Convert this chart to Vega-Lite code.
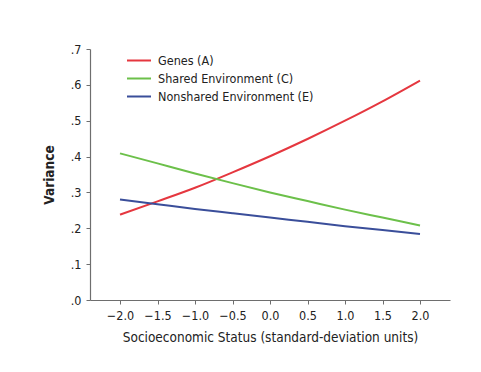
{
  "$schema": "https://vega.github.io/schema/vega-lite/v6.json",
  "autosize": "none",
  "width": 360,
  "height": 251,
  "padding": {"left": 90, "top": 49, "right": 31, "bottom": 72},
  "background": "white",
  "config": {
    "view": {"stroke": null},
    "font": "DejaVu Sans Condensed, Liberation Sans, sans-serif",
    "axis": {
      "domainColor": "#6e6e6e",
      "tickColor": "#6e6e6e",
      "domainWidth": 1.2,
      "tickSize": 4,
      "grid": false,
      "labelColor": "#222",
      "titleColor": "#222",
      "labelFont": "DejaVu Sans Condensed, Liberation Sans, sans-serif",
      "titleFont": "DejaVu Sans Condensed, Liberation Sans, sans-serif",
      "labelFontSize": 12.5,
      "titleFontSize": 13.5,
      "titleFontWeight": "normal"
    },
    "legend": {
      "labelFont": "DejaVu Sans Condensed, Liberation Sans, sans-serif",
      "labelFontSize": 12.5,
      "labelColor": "#222"
    }
  },
  "data": {
    "values": [
      {"ses": -2.0, "component": "Genes (A)", "variance": 0.238},
      {"ses": -1.5, "component": "Genes (A)", "variance": 0.275},
      {"ses": -1.0, "component": "Genes (A)", "variance": 0.313},
      {"ses": -0.5, "component": "Genes (A)", "variance": 0.356},
      {"ses": 0.0, "component": "Genes (A)", "variance": 0.401},
      {"ses": 0.5, "component": "Genes (A)", "variance": 0.449},
      {"ses": 1.0, "component": "Genes (A)", "variance": 0.500},
      {"ses": 1.5, "component": "Genes (A)", "variance": 0.554},
      {"ses": 2.0, "component": "Genes (A)", "variance": 0.612},
      {"ses": -2.0, "component": "Shared Environment (C)", "variance": 0.409},
      {"ses": -1.5, "component": "Shared Environment (C)", "variance": 0.381},
      {"ses": -1.0, "component": "Shared Environment (C)", "variance": 0.353},
      {"ses": -0.5, "component": "Shared Environment (C)", "variance": 0.326},
      {"ses": 0.0, "component": "Shared Environment (C)", "variance": 0.300},
      {"ses": 0.5, "component": "Shared Environment (C)", "variance": 0.276},
      {"ses": 1.0, "component": "Shared Environment (C)", "variance": 0.252},
      {"ses": 1.5, "component": "Shared Environment (C)", "variance": 0.230},
      {"ses": 2.0, "component": "Shared Environment (C)", "variance": 0.208},
      {"ses": -2.0, "component": "Nonshared Environment (E)", "variance": 0.280},
      {"ses": -1.5, "component": "Nonshared Environment (E)", "variance": 0.267},
      {"ses": -1.0, "component": "Nonshared Environment (E)", "variance": 0.254},
      {"ses": -0.5, "component": "Nonshared Environment (E)", "variance": 0.242},
      {"ses": 0.0, "component": "Nonshared Environment (E)", "variance": 0.230},
      {"ses": 0.5, "component": "Nonshared Environment (E)", "variance": 0.218},
      {"ses": 1.0, "component": "Nonshared Environment (E)", "variance": 0.206},
      {"ses": 1.5, "component": "Nonshared Environment (E)", "variance": 0.195},
      {"ses": 2.0, "component": "Nonshared Environment (E)", "variance": 0.184}
    ]
  },
  "mark": {"type": "line", "strokeWidth": 2, "interpolate": "monotone"},
  "encoding": {
    "x": {
      "field": "ses",
      "type": "quantitative",
      "scale": {"domain": [-2.4, 2.4], "nice": false, "zero": false},
      "axis": {
        "values": [-2, -1.5, -1, -0.5, 0, 0.5, 1, 1.5, 2],
        "format": ".1f",
        "title": "Socioeconomic Status (standard-deviation units)",
        "labelPadding": 5,
        "titlePadding": 9
      }
    },
    "y": {
      "field": "variance",
      "type": "quantitative",
      "scale": {"domain": [0, 0.7], "nice": false},
      "axis": {
        "values": [0, 0.1, 0.2, 0.3, 0.4, 0.5, 0.6, 0.7],
        "labelExpr": "replace(format(datum.value, '.1f'), '0.', '.')",
        "title": "Variance",
        "titleFontWeight": "bold",
        "labelPadding": 5,
        "titlePadding": 14
      }
    },
    "color": {
      "field": "component",
      "type": "nominal",
      "sort": ["Genes (A)", "Shared Environment (C)", "Nonshared Environment (E)"],
      "scale": {
        "domain": ["Genes (A)", "Shared Environment (C)", "Nonshared Environment (E)"],
        "range": ["#e5373f", "#6cc04a", "#3a4e9a"]
      },
      "legend": {
        "title": null,
        "orient": "none",
        "legendX": 36,
        "legendY": 4,
        "symbolType": "stroke",
        "symbolSize": 576,
        "symbolStrokeWidth": 2,
        "clipHeight": 15,
        "rowPadding": 3,
        "labelOffset": 6
      }
    }
  }
}
